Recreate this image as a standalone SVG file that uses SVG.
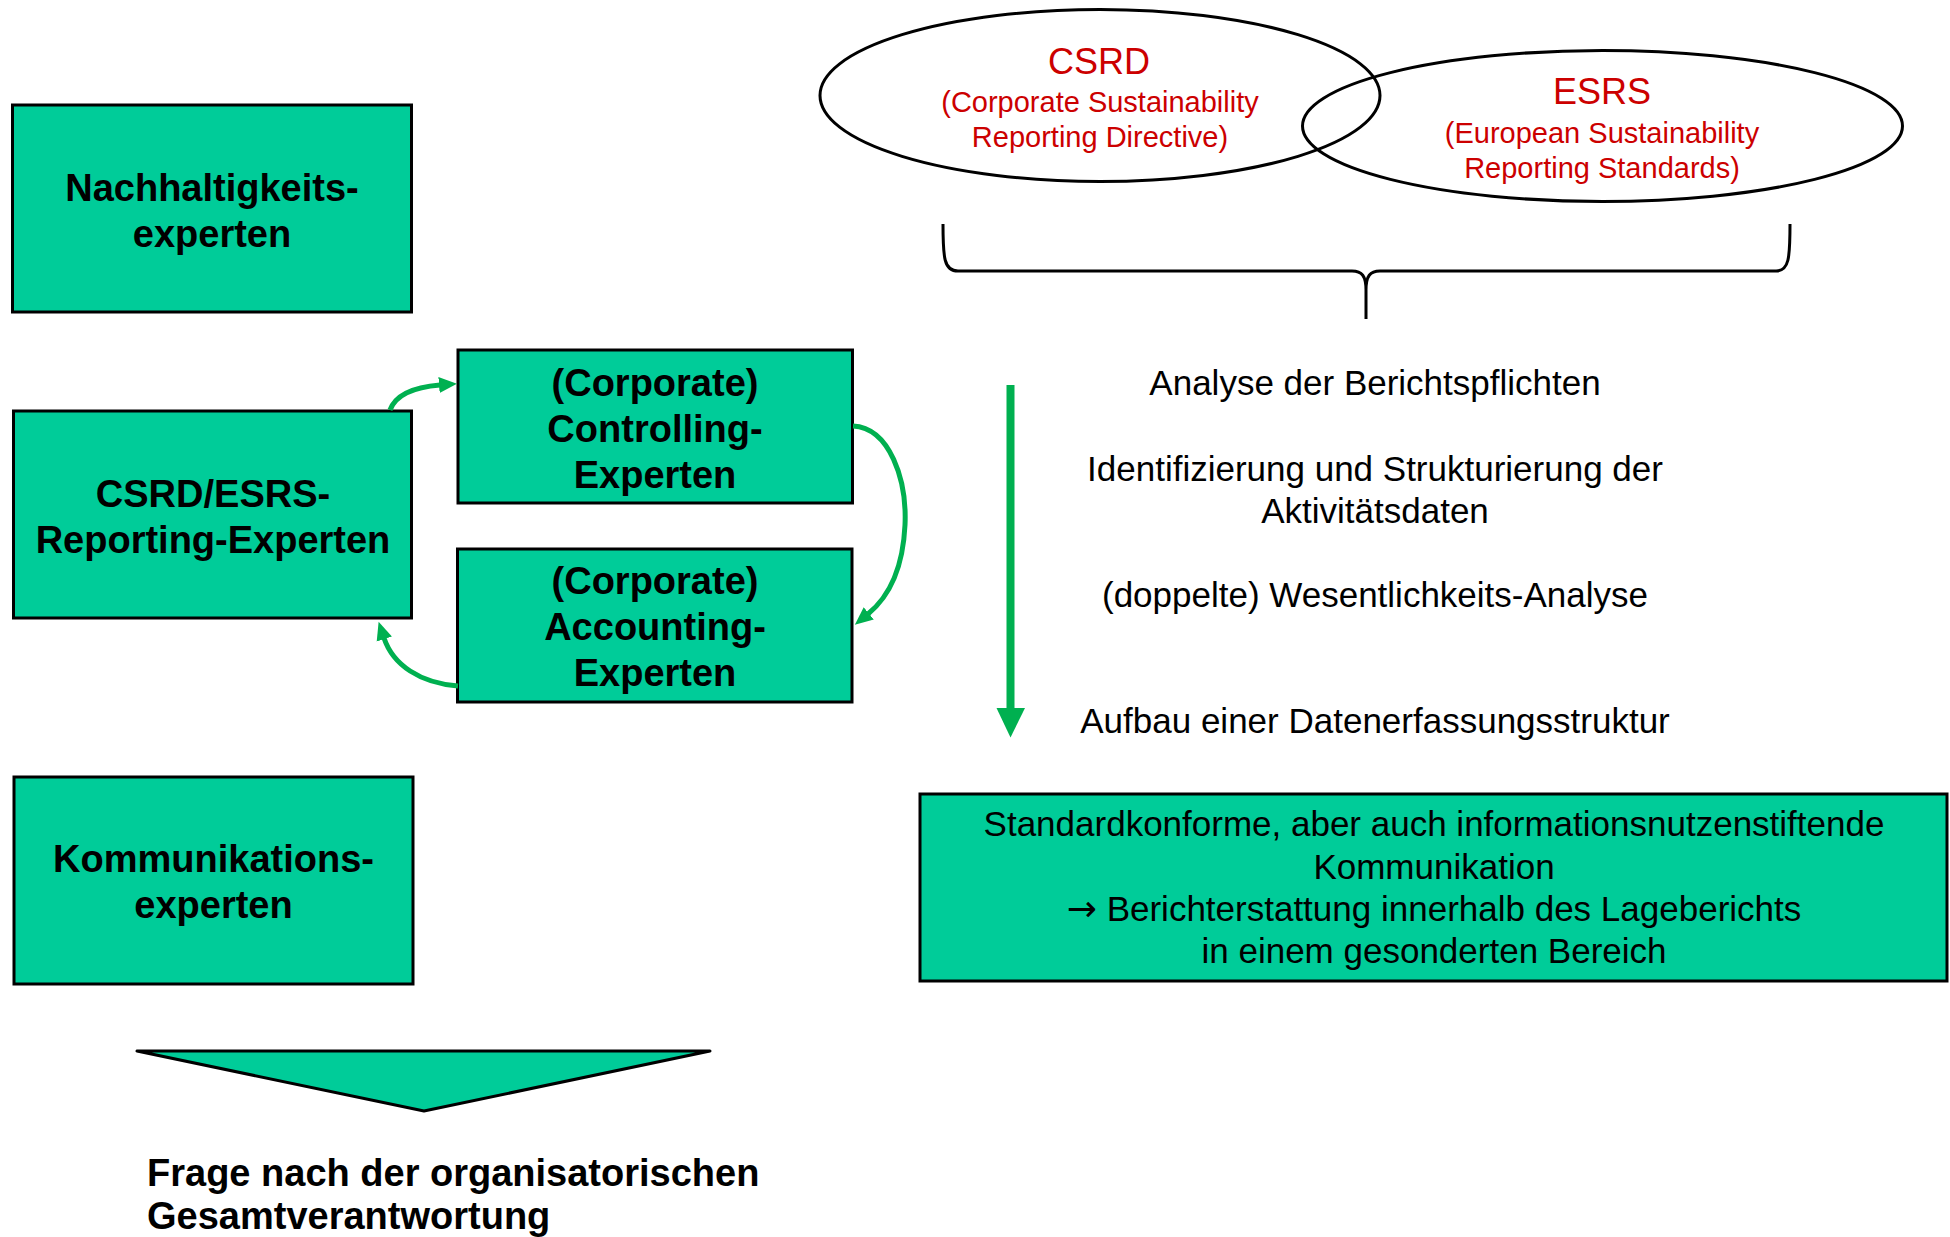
<svg xmlns="http://www.w3.org/2000/svg" width="1950" height="1237" viewBox="0 0 1950 1237">
  <defs>
    <style>
      .box { fill: #00CC99; stroke: #000; stroke-width: 3; }
      .bold { font-family: "Liberation Sans", Arial, sans-serif; font-weight: bold; font-size: 38px; fill: #000; text-anchor: middle; }
      .left { text-anchor: start; }
      .reg { font-family: "Liberation Sans", Arial, sans-serif; font-size: 35px; fill: #000; text-anchor: middle; }
      .red { font-family: "Liberation Sans", Arial, sans-serif; fill: #CC0000; text-anchor: middle; }
      .outline { fill: none; stroke: #000; stroke-width: 3; }
      .flow { fill: none; stroke: #00B050; stroke-width: 5; }
    </style>
    <marker id="head" markerUnits="userSpaceOnUse" markerWidth="20" markerHeight="18" refX="1" refY="8" orient="auto" viewBox="0 0 20 16">
      <path d="M0,0 L18,8 L0,16 z" fill="#00B050"/>
    </marker>
  </defs>

  <rect width="1950" height="1237" fill="#fff"/>

  <!-- left column: expert groups -->
  <g id="nachhaltigkeit">
    <rect class="box" x="12.5" y="105" width="399" height="207"/>
    <text class="bold" x="212" y="201">Nachhaltigkeits-</text>
    <text class="bold" x="212" y="247">experten</text>
  </g>

  <g id="reporting">
    <rect class="box" x="13.5" y="411" width="398" height="207"/>
    <text class="bold" x="213" y="507">CSRD/ESRS-</text>
    <text class="bold" x="213" y="553">Reporting-Experten</text>
  </g>

  <g id="controlling">
    <rect class="box" x="458" y="350" width="394.5" height="153"/>
    <text class="bold" x="655" y="395.5">(Corporate)</text>
    <text class="bold" x="655" y="441.5">Controlling-</text>
    <text class="bold" x="655" y="487.5">Experten</text>
  </g>

  <g id="accounting">
    <rect class="box" x="457.5" y="549" width="394.5" height="153"/>
    <text class="bold" x="655" y="593.5">(Corporate)</text>
    <text class="bold" x="655" y="639.5">Accounting-</text>
    <text class="bold" x="655" y="685.5">Experten</text>
  </g>

  <g id="kommunikation">
    <rect class="box" x="14" y="777" width="399" height="207"/>
    <text class="bold" x="213.5" y="871.5">Kommunikations-</text>
    <text class="bold" x="213.5" y="917.5">experten</text>
  </g>

  <g id="verantwortung">
    <polygon class="box" points="137,1051 710,1051 424,1111" stroke-linejoin="round"/>
    <text class="bold left" x="147" y="1186">Frage nach der organisatorischen</text>
    <text class="bold left" x="147" y="1229">Gesamtverantwortung</text>
  </g>

  <!-- regulatory frameworks -->
  <g id="csrd">
    <ellipse class="outline" cx="1100" cy="95.5" rx="280" ry="86"/>
    <text class="red" x="1099" y="74" font-size="36">CSRD</text>
    <text class="red" x="1100" y="112" font-size="29">(Corporate Sustainability</text>
    <text class="red" x="1100" y="147" font-size="29">Reporting Directive)</text>
  </g>

  <g id="esrs">
    <ellipse class="outline" cx="1602.5" cy="126" rx="300" ry="75.5"/>
    <text class="red" x="1602" y="104" font-size="36">ESRS</text>
    <text class="red" x="1602" y="143" font-size="29">(European Sustainability</text>
    <text class="red" x="1602" y="178" font-size="29">Reporting Standards)</text>
  </g>

  <g id="brace">
    <path class="outline" d="M943,224 C943,258 944,271 958,271 L1352,271 C1362,271 1366,276 1366,290 L1366,319 M1366,290 C1366,276 1370,271 1380,271 L1776,271 C1789,271 1790,258 1790,224"/>
  </g>

  <!-- process steps -->
  <g id="schritte">
    <text class="reg" x="1375" y="395">Analyse der Berichtspflichten</text>
    <text class="reg" x="1375" y="481">Identifizierung und Strukturierung der</text>
    <text class="reg" x="1375" y="523">Aktivitätsdaten</text>
    <text class="reg" x="1375" y="607">(doppelte) Wesentlichkeits-Analyse</text>
    <text class="reg" x="1375" y="733">Aufbau einer Datenerfassungsstruktur</text>
  </g>

  <g id="kommunikationsziel">
    <rect class="box" x="920" y="794" width="1027" height="187"/>
    <text class="reg" x="1434" y="836">Standardkonforme, aber auch informationsnutzenstiftende</text>
    <text class="reg" x="1434" y="879">Kommunikation</text>
    <text class="reg" x="1434" y="921"><tspan font-family="'DejaVu Sans', sans-serif" font-size="36">→</tspan> Berichterstattung innerhalb des Lageberichts</text>
    <text class="reg" x="1434" y="963">in einem gesonderten Bereich</text>
  </g>

  <!-- connectors -->
  <g id="connectors">
    <path class="flow" d="M390,410 C396,394 415,387 440,385" marker-end="url(#head)"/>
    <path class="flow" d="M853,426 C890,428 907,480 905,525 C903,568 890,596 868,614" marker-end="url(#head)"/>
    <path class="flow" d="M458,686 C420,683 393,665 384,638" marker-end="url(#head)"/>
    <line x1="1010.5" y1="385" x2="1010.5" y2="710" stroke="#00B050" stroke-width="8"/>
    <polygon points="996.5,708 1025,708 1010.5,737.5" fill="#00B050"/>
  </g>
</svg>
